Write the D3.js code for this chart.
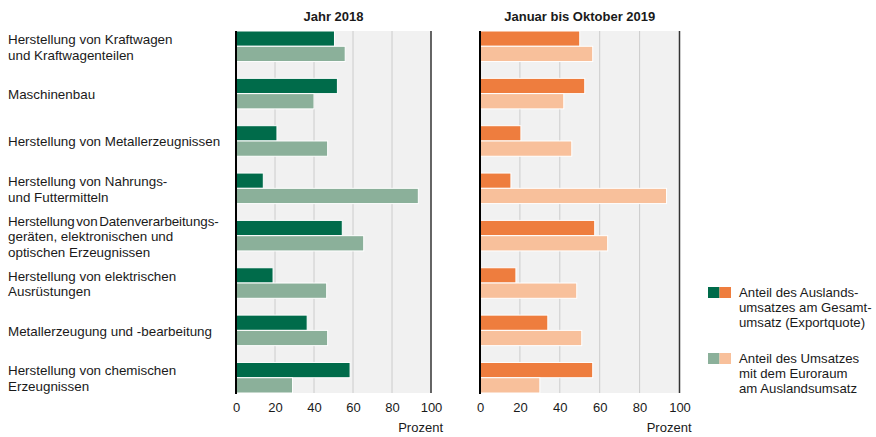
<!DOCTYPE html>
<html>
<head>
<meta charset="utf-8">
<script src="https://cdn.jsdelivr.net/npm/d3@7"></script>
<style>
  body { margin: 0; background: #ffffff; }
  svg { display: block; font-family: "Liberation Sans", Arial, sans-serif; }
</style>
</head>
<body>
<svg id="chart" width="876" height="437"></svg>
<script>
// ---- data ----
const categories = [
  ["Herstellung von Kraftwagen", "und Kraftwagenteilen"],
  ["Maschinenbau"],
  ["Herstellung von Metallerzeugnissen"],
  ["Herstellung von Nahrungs-", "und Futtermitteln"],
  ["Herstellung von Datenverarbeitungs-", "geräten, elektronischen und", "optischen Erzeugnissen"],
  ["Herstellung von elektrischen", "Ausrüstungen"],
  ["Metallerzeugung und -bearbeitung"],
  ["Herstellung von chemischen", "Erzeugnissen"]
];
const exportquote2018 = [50.5, 52, 21, 14, 54.5, 19, 36.5, 58.5];
const euroraum2018    = [56, 40, 47, 93.5, 65.5, 46.5, 47, 29];
const exportquote2019 = [50, 52.5, 20.5, 15.5, 57.5, 18, 34, 56.5];
const euroraum2019    = [56.5, 42, 46, 93.5, 64, 48.5, 51, 30];
const panelTitles = ["Jahr 2018", "Januar bis Oktober 2019"];
const tickValues = [0, 20, 40, 60, 80, 100];
const axisUnit = "Prozent";
const legendLabels = [
  ["Anteil des Auslands-", "umsatzes am Gesamt-", "umsatz (Exportquote)"],
  ["Anteil des Umsatzes", "mit dem Euroraum", "am Auslandsumsatz"]
];

// ---- styles ----
const colors = {
  dark: ["#006b4a", "#ee7d3e"],
  light: ["#8bb09a", "#f8c09b"]
};

const svg = d3.select("#chart");
const plotTop = 31, plotBottom = 393;

const y = d3.scaleBand()
  .domain(d3.range(categories.length))
  .range([plotTop, plotBottom])
  .paddingInner(0.355)
  .paddingOuter(0);

const panels = [
  { x0: 236, x1: 431, a: exportquote2018, b: euroraum2018 },
  { x0: 480, x1: 679.5, a: exportquote2019, b: euroraum2019 }
];

// category labels
const lab = svg.append("g");
categories.forEach((lines, i) => {
  const c = y(i) + y.bandwidth() / 2;
  const lh = 15.5;
  const first = c + 5.5 - lh * (lines.length - 1) / 2;
  const t = lab.append("text")
    .attr("x", 8)
    .attr("font-size", 13.4)
    .attr("fill", "#1a1a1a");
  lines.forEach((l, k) => {
    const ts = t.append("tspan").attr("x", 8).attr("y", first + k * lh).text(l);
    if (l.length > 34) ts.attr("word-spacing", -2).attr("letter-spacing", -0.1);
  });
});

panels.forEach((p, pi) => {
  const x = d3.scaleLinear().domain([0, 100]).range([p.x0, p.x1]);
  const g = svg.append("g");

  g.append("rect")
    .attr("x", x(0)).attr("y", plotTop)
    .attr("width", x(100) - x(0)).attr("height", plotBottom - plotTop)
    .attr("fill", "#f1f1f1");

  g.selectAll("line.grid")
    .data(tickValues.filter(v => v > 0 && v < 100))
    .join("line")
    .attr("class", "grid")
    .attr("x1", d => x(d)).attr("x2", d => x(d))
    .attr("y1", plotTop).attr("y2", plotBottom)
    .attr("stroke", "#cccccc").attr("stroke-width", 1);

  // bars
  const bh = y.bandwidth() / 2;
  g.selectAll("rect.a")
    .data(p.a)
    .join("rect")
    .attr("class", "a")
    .attr("x", x(0))
    .attr("y", (d, i) => y(i))
    .attr("width", d => x(d) - x(0))
    .attr("height", bh)
    .attr("fill", colors.dark[pi])
    .attr("stroke", "#ffffff").attr("stroke-width", 1);
  g.selectAll("rect.b")
    .data(p.b)
    .join("rect")
    .attr("class", "b")
    .attr("x", x(0))
    .attr("y", (d, i) => y(i) + bh)
    .attr("width", d => x(d) - x(0))
    .attr("height", bh)
    .attr("fill", colors.light[pi])
    .attr("stroke", "#ffffff").attr("stroke-width", 1);

  // right boundary
  g.append("line")
    .attr("x1", x(100)).attr("x2", x(100))
    .attr("y1", plotTop).attr("y2", plotBottom)
    .attr("stroke", "#333333").attr("stroke-width", 1.5);
  // left axis line
  g.append("line")
    .attr("x1", x(0)).attr("x2", x(0))
    .attr("y1", plotTop).attr("y2", plotBottom + 1)
    .attr("stroke", "#000000").attr("stroke-width", 2);

  // x axis
  const ax = g.append("g")
    .attr("transform", `translate(0,${plotBottom})`)
    .call(d3.axisBottom(x).tickValues(tickValues).tickSize(0).tickPadding(10).tickFormat(d3.format("d")));
  ax.select(".domain").remove();
  ax.selectAll("text")
    .attr("font-size", 13)
    .attr("font-family", "Liberation Sans, Arial, sans-serif")
    .attr("fill", "#1a1a1a");

  g.append("text")
    .attr("x", x(100) + 12)
    .attr("y", 432)
    .attr("text-anchor", "end")
    .attr("font-size", 13)
    .attr("fill", "#1a1a1a")
    .text(axisUnit);

  // title
  g.append("text")
    .attr("x", (x(0) + x(100)) / 2)
    .attr("y", 20.5)
    .attr("text-anchor", "middle")
    .attr("font-size", 13)
    .attr("font-weight", "bold")
    .attr("fill", "#1a1a1a")
    .text(panelTitles[pi]);
});

// legend
const legTops = [287, 353];
const leg = svg.append("g");
legendLabels.forEach((lines, li) => {
  const ty = legTops[li];
  const pair = li === 0 ? colors.dark : colors.light;
  leg.append("rect").attr("x", 708).attr("y", ty).attr("width", 11.5).attr("height", 11).attr("fill", pair[0]);
  leg.append("rect").attr("x", 719.5).attr("y", ty).attr("width", 11.5).attr("height", 11).attr("fill", pair[1]);
  const t = leg.append("text").attr("font-size", 13.2).attr("fill", "#1a1a1a");
  lines.forEach((l, k) => {
    t.append("tspan").attr("x", 739).attr("y", ty + 10 + k * 15).text(l);
  });
});
</script>
</body>
</html>
